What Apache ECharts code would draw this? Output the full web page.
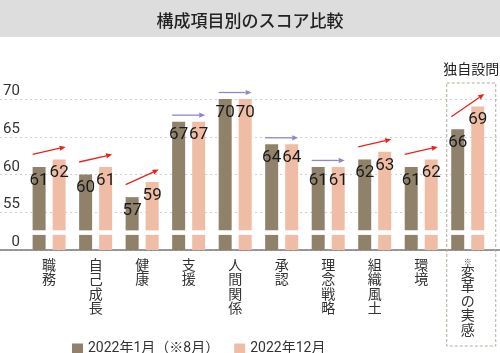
<!DOCTYPE html>
<html>
<head>
<meta charset="utf-8">
<script src="https://cdn.jsdelivr.net/npm/echarts@6/dist/echarts.min.js"></script>
<style>
  html,body{margin:0;padding:0;background:#fff;}
  #main{width:500px;height:353px;}
</style>
</head>
<body>
<div id="main"></div>
<script>
// データ
var categories = ['職務','自己成長','健康','支援','人間関係','承認','理念戦略','組織風土','環境','変革の実感'];
var scoreJan = [61,60,57,67,70,64,61,62,61,66];
var scoreDec = [62,61,59,67,70,64,61,63,62,69];
var yTicks = [50,55,60,65,70];   // 50 は「0」として表示（省略軸）
var nameJan = '2022年1月（※8月）';
var nameDec = '2022年12月';

var FONT = 'Roboto, "Noto Sans CJK JP", sans-serif';
var colJan = '#8f816a';
var colDec = '#efbda5';
var cutLow = 52.0, cutHigh = 52.6;   // 省略の白い帯

var myChart = echarts.init(document.getElementById('main'), null, {renderer:'canvas'});

function baseArr(){ return scoreJan.map(function(){ return cutLow; }); }
function gapArr(){ return scoreJan.map(function(){ return cutHigh - cutLow; }); }

var arrowData = [];
for (var i = 0; i < categories.length; i++) {
    arrowData.push([i, scoreJan[i], scoreDec[i]]);
}

function catLabel(v){
    var s = v.split('').join('\n');
    if (v === '変革の実感') s = '{s|※}\n' + s;
    return s;
}

var option = {
    textStyle:{fontFamily:FONT},
    title:{
        text:'構成項目別のスコア比較',
        left:'center',
        top:9,
        textStyle:{fontSize:17, fontWeight:500, color:'#222', fontFamily:FONT}
    },
    legend:{
        data:[nameJan, nameDec],
        left:67,
        top:337,
        icon:'rect',
        itemWidth:11,
        itemHeight:11,
        itemGap:15,
        textStyle:{fontSize:14, color:'#333', fontFamily:FONT}
    },
    grid:[
        {left:23, right:9, top:99, bottom:103},
        {left:0, right:0, top:99, bottom:103}
    ],
    xAxis:[
        {
            type:'category',
            gridIndex:0,
            data:categories,
            axisLine:{show:false},
            axisTick:{show:false},
            axisLabel:{
                interval:0,
                margin:9,
                fontSize:14,
                lineHeight:14.5,
                color:'#333',
                verticalAlign:'top',
                formatter:catLabel,
                rich:{s:{fontSize:8, lineHeight:7, color:'#333'}}
            }
        },
        {
            type:'value',
            gridIndex:1,
            min:0, max:1,
            axisLine:{show:true, lineStyle:{color:'#777', width:1.5}},
            axisTick:{show:false},
            axisLabel:{show:false},
            splitLine:{show:false}
        }
    ],
    yAxis:[
        {
            type:'value',
            gridIndex:0,
            min:yTicks[0], max:yTicks[yTicks.length-1], interval:5,
            axisLine:{show:false},
            axisTick:{show:false},
            splitLine:{show:false},
            axisLabel:{
                margin:6,
                fontSize:15,
                color:'#333',
                verticalAlign:'bottom',
                formatter:function(v){ return v === yTicks[0] ? '0' : String(v); }
            }
        },
        {
            type:'value',
            gridIndex:1,
            min:yTicks[0], max:yTicks[yTicks.length-1], interval:5,
            axisLine:{show:false},
            axisTick:{show:false},
            axisLabel:{show:false},
            splitLine:{show:true, lineStyle:{color:'#cfcfcf', type:[2,3], width:1}}
        }
    ],
    series:[
        // 1月
        {name:nameJan, type:'bar', stack:'jan', barWidth:13, barGap:'54%', data:baseArr(), itemStyle:{color:colJan}, z:2},
        {name:'gapJan', type:'bar', stack:'jan', barWidth:13, data:gapArr(), itemStyle:{color:'rgba(0,0,0,0)'}, z:2},
        {name:nameJan, type:'bar', stack:'jan', barWidth:13,
            data:scoreJan.map(function(v){ return v - cutHigh; }),
            itemStyle:{color:colJan}, z:2,
            label:{show:true, position:'insideTop', distance:5, fontSize:17, color:'#1a1a1a', fontFamily:FONT,
                formatter:function(p){ return scoreJan[p.dataIndex]; }}
        },
        // 12月
        {name:nameDec, type:'bar', stack:'dec', barWidth:13, data:baseArr(), itemStyle:{color:colDec}, z:2},
        {name:'gapDec', type:'bar', stack:'dec', barWidth:13, data:gapArr(), itemStyle:{color:'rgba(0,0,0,0)'}, z:2},
        {name:nameDec, type:'bar', stack:'dec', barWidth:13,
            data:scoreDec.map(function(v){ return v - cutHigh; }),
            itemStyle:{color:colDec}, z:2,
            label:{show:true, position:'insideTop', distance:5, fontSize:17, color:'#1a1a1a', fontFamily:FONT,
                formatter:function(p){ return scoreDec[p.dataIndex]; }}
        },
        // 矢印
        {
            name:'arrows',
            type:'custom',
            xAxisIndex:0, yAxisIndex:0,
            z:5,
            silent:true,
            data:arrowData,
            renderItem:function(params, api){
                var idx = api.value(0), a = api.value(1), b = api.value(2);
                var p = api.coord([idx, a]);
                var q = api.coord([idx, b]);
                var up = b > a;
                var off = up ? 12.5 : 6.5;
                var color = up ? '#e8231a' : '#8f86cc';
                var x1 = p[0] - 16.5, y1 = p[1] - off;
                var x2 = p[0] + 16.5, y2 = q[1] - off;
                var ang = Math.atan2(y2 - y1, x2 - x1);
                var L = 6, W = 2.6;
                var bx = x2 - L*Math.cos(ang), by = y2 - L*Math.sin(ang);
                var nx = -Math.sin(ang), ny = Math.cos(ang);
                return {
                    type:'group',
                    children:[
                        {type:'line', shape:{x1:x1, y1:y1, x2:bx, y2:by}, style:{stroke:color, lineWidth:1.3}},
                        {type:'polygon', shape:{points:[[x2,y2],[bx+nx*W,by+ny*W],[bx-nx*W,by-ny*W]]}, style:{fill:color}}
                    ]
                };
            }
        }
    ]
};

myChart.setOption(option);

// タイトル帯と「独自設問」の枠（軸の位置から計算）
var last = categories.length - 1;
var cx = myChart.convertToPixel({xAxisIndex:0}, categories[last]);
myChart.setOption({
    graphic:[
        {type:'rect', left:0, top:0, z:-10, shape:{width:500, height:37}, style:{fill:'#dddddd'}},
        {type:'rect', z:1, shape:{x:cx-21, y:83, width:49, height:263},
            style:{fill:'none', stroke:'#b8ab98', lineWidth:1, lineDash:[3,2]}},
        {type:'text', z:1, x:cx+3.5, y:70, style:{text:'独自設問', fontSize:14, fill:'#222', fontFamily:FONT,
            textAlign:'center', textVerticalAlign:'middle'}}
    ]
});
</script>
</body>
</html>
